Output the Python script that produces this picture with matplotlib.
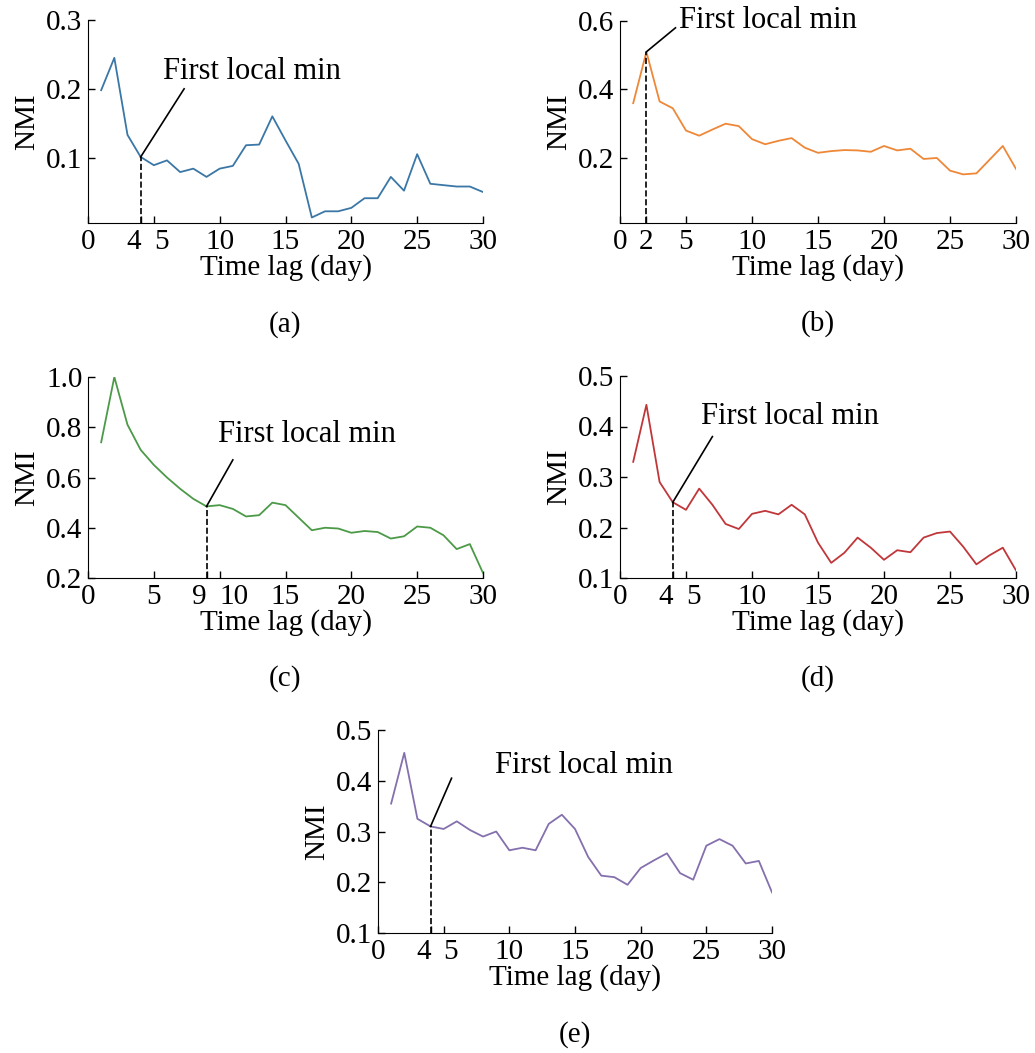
import matplotlib.pyplot as plt

plt.rcParams['font.family'] = ['Liberation Serif', 'DejaVu Serif']
plt.rcParams['font.size'] = 21

lags = list(range(1, 31))

nmi_a = [0.198, 0.245, 0.133, 0.101, 0.089, 0.096, 0.079, 0.084, 0.072, 0.084,
         0.088, 0.118, 0.119, 0.160, 0.125, 0.091, 0.013, 0.022, 0.022, 0.027,
         0.041, 0.041, 0.072, 0.052, 0.105, 0.062, 0.060, 0.058, 0.058, 0.050]
nmi_b = [0.36, 0.51, 0.365, 0.345, 0.28, 0.265, 0.283, 0.30, 0.293, 0.255,
         0.24, 0.25, 0.258, 0.23, 0.215, 0.22, 0.223, 0.222, 0.218, 0.235,
         0.222, 0.227, 0.197, 0.2, 0.163, 0.152, 0.155, 0.195, 0.235, 0.168]
nmi_c = [0.74, 1.0, 0.81, 0.71, 0.65, 0.60, 0.555, 0.515, 0.485, 0.49,
         0.475, 0.445, 0.45, 0.50, 0.49, 0.44, 0.39, 0.40, 0.397, 0.38,
         0.387, 0.383, 0.357, 0.366, 0.405, 0.40, 0.37, 0.315, 0.335, 0.22]
nmi_d = [0.33, 0.443, 0.29, 0.25, 0.235, 0.277, 0.245, 0.207, 0.197, 0.227,
         0.233, 0.226, 0.245, 0.226, 0.17, 0.13, 0.15, 0.18, 0.16, 0.136,
         0.155, 0.151, 0.18, 0.189, 0.192, 0.162, 0.127, 0.145, 0.16, 0.115]
nmi_e = [0.355, 0.455, 0.325, 0.31, 0.305, 0.32, 0.303, 0.29, 0.30, 0.263,
         0.268, 0.263, 0.315, 0.333, 0.305, 0.25, 0.213, 0.21, 0.195, 0.228,
         0.243, 0.257, 0.218, 0.205, 0.272, 0.285, 0.272, 0.237, 0.242, 0.18]

W, H = 1035, 1053

def px_axes(fig, left, top, right, bottom):
    return fig.add_axes([left / W, 1 - bottom / H, (right - left) / W, (bottom - top) / H])

# (series, colour, min lag, ylim, yticks, xticks, line end, text pos, label, box px)
panels = [
    (nmi_a, '#3a77a6', 4, (0.005, 0.3), [0.1, 0.2, 0.3], [0, 4, 5, 10, 15, 20, 25, 30],
     (7.3, 0.2), (5.7, 0.225), '(a)', (88, 20, 483, 223)),
    (nmi_b, '#ee8838', 2, (0.01, 0.6), [0.2, 0.4, 0.6], [0, 2, 5, 10, 15, 20, 25, 30],
     (4.2, 0.58), (4.5, 0.6), '(b)', (620, 21, 1016, 223)),
    (nmi_c, '#4c9a48', 9, (0.2, 1.0), [0.2, 0.4, 0.6, 0.8, 1.0], [0, 5, 9, 10, 15, 20, 25, 30],
     (11.0, 0.67), (9.9, 0.77), '(c)', (88, 377, 483, 578)),
    (nmi_d, '#c0373a', 4, (0.1, 0.5), [0.1, 0.2, 0.3, 0.4, 0.5], [0, 4, 5, 10, 15, 20, 25, 30],
     (7.0, 0.38), (6.1, 0.42), '(d)', (620, 376, 1016, 578)),
    (nmi_e, '#8470ad', 4, (0.1, 0.5), [0.1, 0.2, 0.3, 0.4, 0.5], [0, 4, 5, 10, 15, 20, 25, 30],
     (5.6, 0.405), (8.9, 0.43), '(e)', (378, 730, 772, 933)),
]

fig = plt.figure(figsize=(W / 100, H / 100), dpi=100)

for vals, col, mlag, ylim, yt, xt, lend, tpos, lab, box in panels:
    ax = px_axes(fig, *box)
    ax.plot(lags, vals, color=col, lw=1.3)
    ymin = vals[mlag - 1]
    ax.plot([mlag, mlag], [ylim[0], ymin], 'k--', lw=1.2)
    ax.plot([mlag, lend[0]], [ymin, lend[1]], 'k-', lw=1.2)
    ax.text(tpos[0], tpos[1], 'First local min', ha='left', va='center', fontsize=22)
    ax.set_xlim(0, 30)
    ax.set_ylim(*ylim)
    ax.set_xticks(xt)
    ax.set_xticklabels([str(t) for t in xt])
    # tight neighbouring labels like the reference ("45", "910")
    for t, tl in zip(xt, ax.get_xticklabels()):
        if t + 1 in xt:
            tl.set_ha('right')
            tl.set_x(t)
        elif t - 1 in xt:
            tl.set_ha('left')
    ax.set_yticks(yt)
    ax.set_yticklabels([f'{v:.1f}' for v in yt])
    ax.tick_params(direction='in', length=5, width=1, pad=4)
    for s in ('top', 'right'):
        ax.spines[s].set_visible(False)
    ax.set_xlabel('Time lag (day)', labelpad=0)
    ax.set_ylabel('NMI', labelpad=4)
    ax.text(0.5, -0.5, lab, transform=ax.transAxes, ha='center', va='center')

fig.savefig('out.png', dpi=100)
